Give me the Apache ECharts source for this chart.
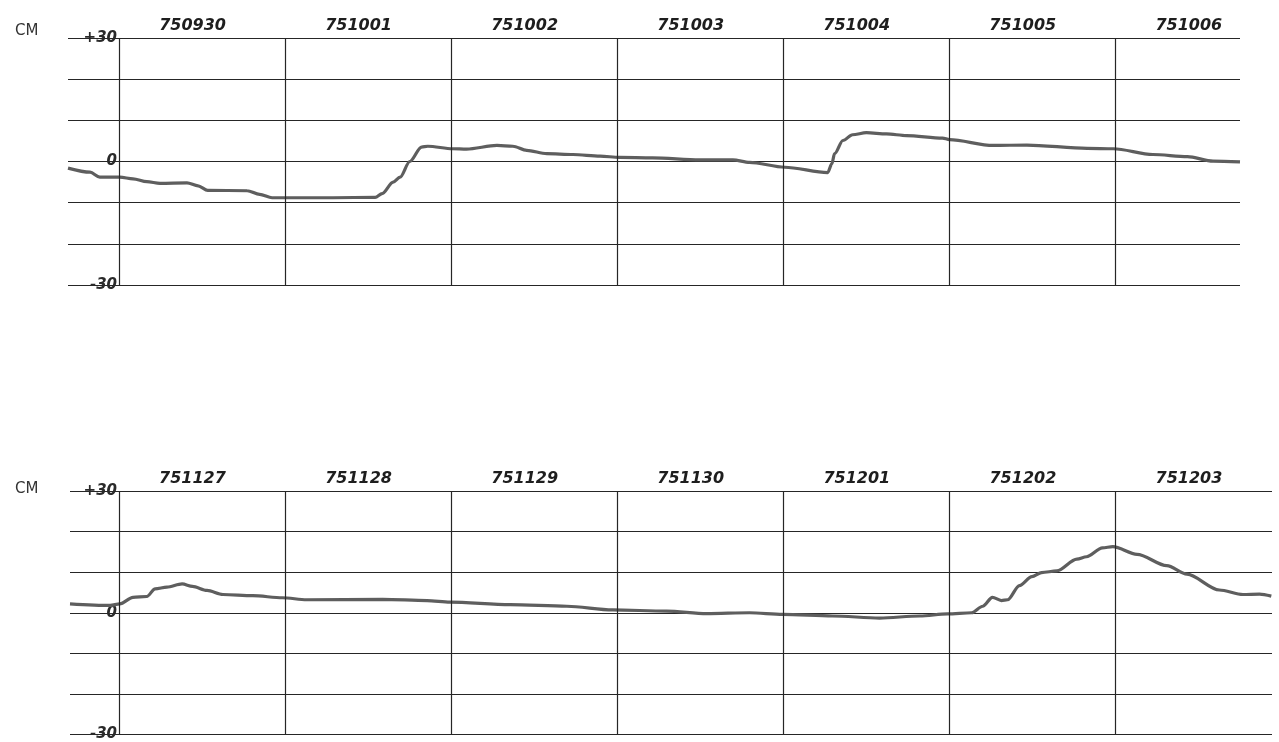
<!DOCTYPE html>
<html>
<head>
<meta charset="utf-8">
<title>Water level record</title>
<script src="https://cdn.jsdelivr.net/npm/echarts@6/dist/echarts.min.js"></script>
<style>
  html, body { margin: 0; padding: 0; background: #fff; }
  #chart { width: 1279px; height: 742px; }
</style>
</head>
<body>
<div id="chart"></div>
<script>
// Day boundaries (hours from the start of the first labelled day)
const dayHours = [0, 24, 48, 72, 96, 120, 144];

// Day labels for each panel
const topDates = ['750930', '751001', '751002', '751003', '751004', '751005', '751006'];
const bottomDates = ['751127', '751128', '751129', '751130', '751201', '751202', '751203'];

// Y tick labels shown on the level scale
const levelTicks = { '30': '+30', '0': '0', '-30': '-30' };

// Upper panel: 30 Sep - 6 Oct 1975 (hours, cm)
const topHours = [-7.4, -4.2, -2.8, 0.1, 2.0, 4.0, 5.9, 9.8, 11.4, 12.8, 18.5, 20.3, 22.1, 24.2,
  30.9, 37.0, 38.0, 39.6, 40.6, 42.0, 43.7, 44.6, 48.2, 50.2, 54.6, 56.9, 58.9, 61.8, 65.6,
  69.5, 72.3, 77.1, 83.9, 88.7, 91.1, 96.2, 102.4, 103.0, 103.4, 104.6, 106.0, 108.0, 110.9,
  113.8, 119.0, 120.0, 126.3, 131.2, 139.9, 143.7, 149.4, 154.4, 158.1, 162.0];
const topLevel = [-1.6, -2.6, -3.8, -3.8, -4.2, -4.9, -5.3, -5.2, -5.9, -7.0, -7.1, -8.0, -8.8, -8.8,
  -8.8, -8.7, -7.8, -5.0, -3.8, 0.0, 3.5, 3.7, 3.1, 3.0, 3.9, 3.7, 2.7, 1.9, 1.7,
  1.3, 1.0, 0.9, 0.4, 0.4, -0.2, -1.4, -2.7, -0.6, 1.9, 5.1, 6.5, 7.0, 6.7,
  6.3, 5.7, 5.3, 3.9, 4.0, 3.2, 3.1, 1.7, 1.2, 0.1, -0.1];

// Lower panel: 27 Nov - 3 Dec 1975 (hours, cm)
const bottomHours = [-7.1, -1.3, 0.1, 2.0, 4.0, 5.2, 6.9, 9.1, 10.6, 12.7, 15.0, 19.3, 23.6, 27.1,
  38.1, 44.5, 47.8, 56.5, 64.7, 71.3, 79.1, 84.9, 91.1, 95.9, 103.1, 109.9, 115.7, 119.7,
  123.2, 124.8, 126.2, 127.5, 128.4, 130.1, 131.9, 133.3, 135.5, 138.4, 139.8, 142.1, 143.6,
  147.1, 151.4, 154.3, 159.0, 162.4, 164.8, 166.5];
const bottomLevel = [2.2, 1.8, 2.2, 3.8, 4.0, 5.9, 6.3, 7.1, 6.5, 5.5, 4.5, 4.2, 3.7, 3.2,
  3.3, 3.0, 2.6, 2.0, 1.6, 0.7, 0.4, -0.2, 0.0, -0.4, -0.8, -1.3, -0.8, -0.3,
  0.0, 1.6, 3.8, 3.0, 3.2, 6.7, 8.9, 9.9, 10.3, 13.2, 13.8, 16.0, 16.3,
  14.4, 11.6, 9.5, 5.6, 4.5, 4.6, 4.1];

const LABEL_OFFSET = 10.6; // day label sits a little left of mid-day
const INK = '#262626';

function pairs(xs, ys) {
  return xs.map((x, i) => [x, ys[i]]);
}

function dayMarks(dates) {
  const lines = dayHours.map(h => ({
    xAxis: h,
    lineStyle: { color: INK, width: 1.2, type: 'solid' },
    label: { show: false }
  }));
  const labels = dates.map((d, i) => ({
    xAxis: dayHours[i] + LABEL_OFFSET,
    name: d,
    lineStyle: { color: 'rgba(0,0,0,0)', width: 0 },
    label: {
      show: true,
      position: 'end',
      distance: 4,
      formatter: '{b}',
      color: '#1e1e1e',
      fontFamily: 'DejaVu Sans',
      fontStyle: 'italic',
      fontWeight: 'bold',
      fontSize: 16
    }
  }));
  return {
    silent: true,
    symbol: ['none', 'none'],
    animation: false,
    data: lines.concat(labels)
  };
}

function xAxisCfg(gridIndex, min, max) {
  return {
    type: 'value',
    gridIndex: gridIndex,
    min: min,
    max: max,
    axisLine: { show: false },
    axisTick: { show: false },
    axisLabel: { show: false },
    splitLine: { show: false }
  };
}

// labelShift moves the level labels in from the grid edge to the first day line
function yAxisCfg(gridIndex, labelShift) {
  return {
    type: 'value',
    gridIndex: gridIndex,
    min: -30,
    max: 30,
    interval: 10,
    axisLine: { show: false },
    axisTick: { show: false },
    axisLabel: {
      margin: -labelShift,
      color: '#2a2a2a',
      fontFamily: 'DejaVu Sans',
      fontWeight: 'bold',
      fontStyle: 'italic',
      fontSize: 15,
      formatter: v => levelTicks[String(v)] || ''
    },
    splitLine: { show: true, lineStyle: { color: INK, width: 1.1 } }
  };
}

function levelSeries(idx, xs, ys, dates) {
  return {
    type: 'line',
    xAxisIndex: idx,
    yAxisIndex: idx,
    data: pairs(xs, ys),
    showSymbol: false,
    smooth: 0.3,
    smoothMonotone: 'x',
    lineStyle: { color: '#5e5e5e', width: 3.2 },
    markLine: dayMarks(dates),
    z: 3
  };
}

const chart = echarts.init(document.getElementById('chart'), null, { renderer: 'canvas' });
chart.setOption({
  backgroundColor: '#ffffff',
  animation: false,
  title: [
    { text: 'CM', left: 10, top: 19, textStyle: { fontFamily: 'DejaVu Sans', fontWeight: 'normal', fontSize: 15, color: '#333' } },
    { text: 'CM', left: 10, top: 477, textStyle: { fontFamily: 'DejaVu Sans', fontWeight: 'normal', fontSize: 15, color: '#333' } }
  ],
  grid: [
    { left: 68, right: 39, top: 38, height: 247, containLabel: false },
    { left: 70, right: 7, top: 491, height: 245, containLabel: false }
  ],
  xAxis: [xAxisCfg(0, -7.4, 162), xAxisCfg(1, -7.1, 166.6)],
  yAxis: [yAxisCfg(0, 49), yAxisCfg(1, 47)],
  series: [
    levelSeries(0, topHours, topLevel, topDates),
    levelSeries(1, bottomHours, bottomLevel, bottomDates)
  ]
});
</script>
</body>
</html>
